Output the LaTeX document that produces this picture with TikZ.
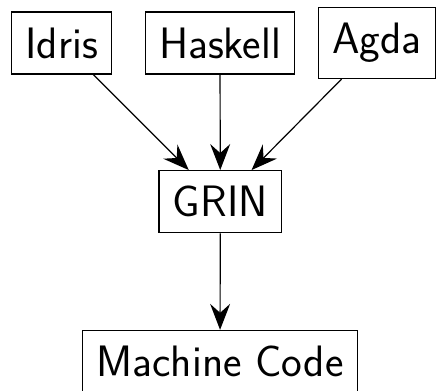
\documentclass[tikz,border=0pt]{standalone}
\usetikzlibrary{arrows.meta}
\begin{document}
\begin{tikzpicture}[x=1pt,y=1pt,
  lang/.style={draw, line width=1.2pt, font=\fontsize{44}{50}\sffamily,
    inner xsep=13.8pt, inner ysep=15.6pt},
  flow/.style={line width=1.2pt, -{Stealth[length=26pt,width=20pt,inset=9pt]}}]
\useasboundingbox (0,0) rectangle (438,-390);
\node[lang] (idris)   at (61.8,-43) {Idris};
\node[lang] (haskell) at (220,-43)  {Haskell};
\node[lang] (agda)    at (377,-43.2) {Agda};
\node[lang] (grin)    at (220.3,-201.7) {GRIN};
\node[lang] (mc)      at (220,-361.5) {Machine Code};
\draw[flow] (idris) -- (grin);
\draw[flow] (haskell) -- (grin);
\draw[flow] (agda) -- (grin);
\draw[flow] (grin) -- (mc);
\end{tikzpicture}
\end{document}
